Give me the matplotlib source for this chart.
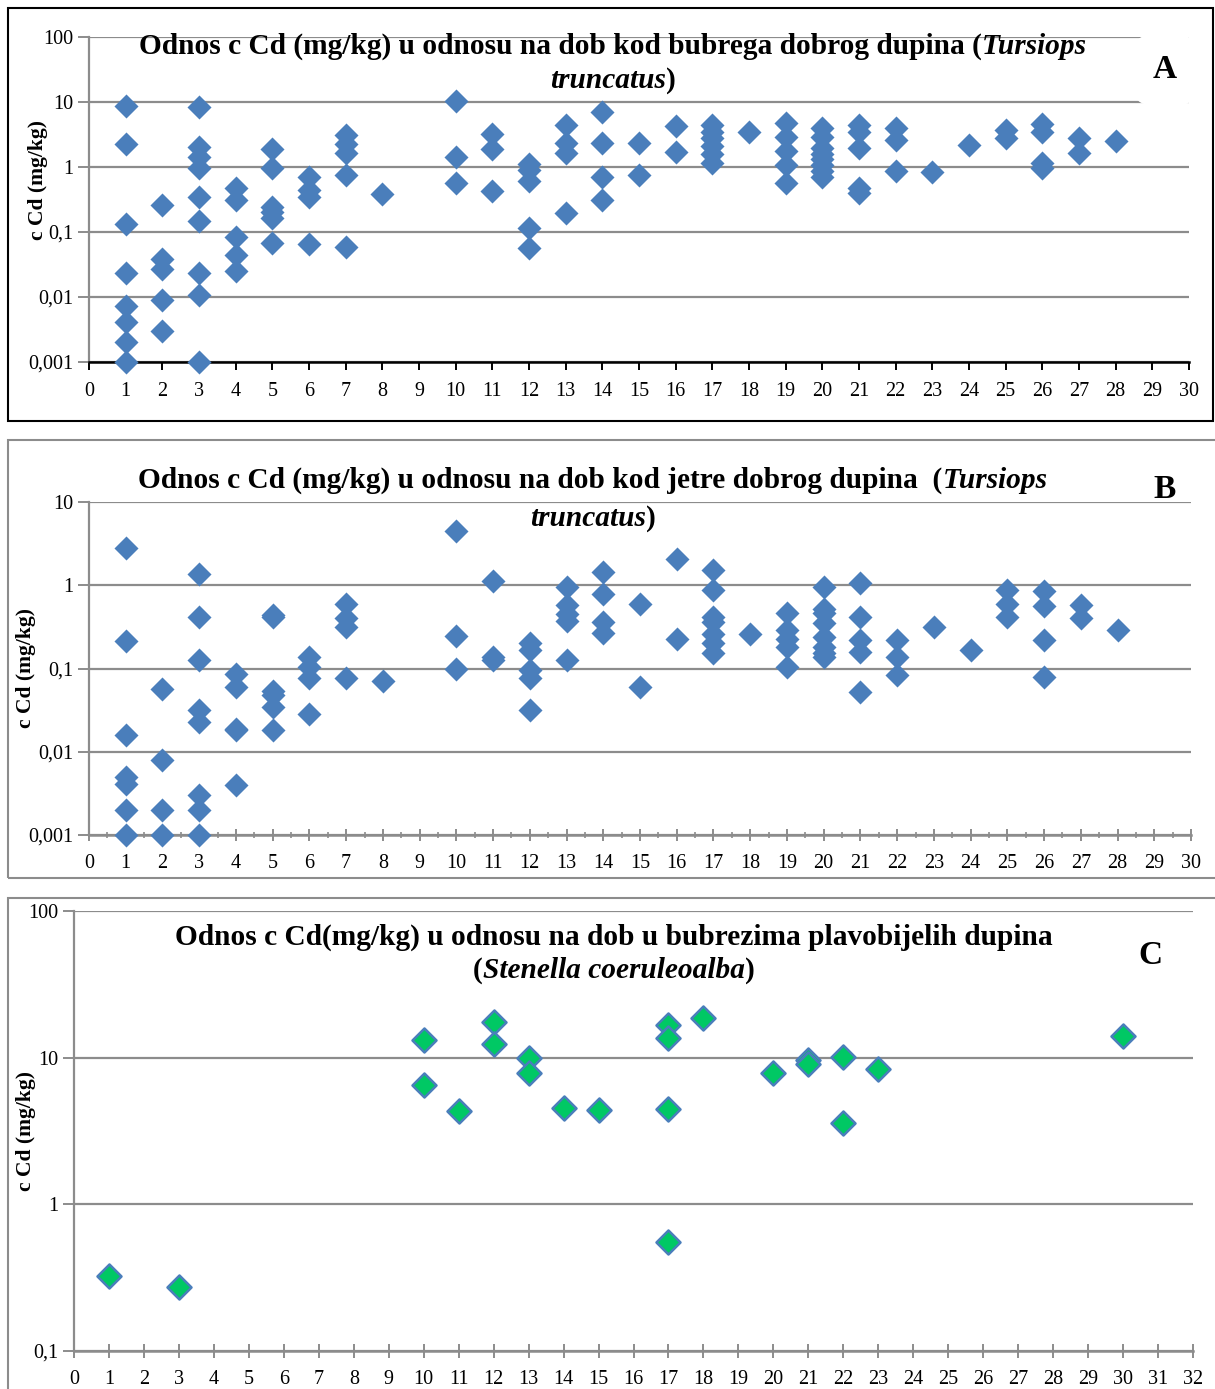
import matplotlib
matplotlib.use("Agg")
import matplotlib.pyplot as plt
from matplotlib.patches import Rectangle
from matplotlib.ticker import FixedLocator, MultipleLocator

plt.rcParams['font.family'] = ['Liberation Serif', 'DejaVu Serif']

# --- A: bubreg, Tursiops truncatus (dob, c Cd mg/kg)
a_age = [1, 1, 1, 1, 1, 1, 1, 1,
         2, 2, 2, 2, 2,
         3, 3, 3, 3, 3, 3, 3, 3, 3,
         4, 4, 4, 4, 4,
         5, 5, 5, 5, 5, 5,
         6, 6, 6, 6,
         7, 7, 7, 7, 7,
         8,
         10, 10, 10,
         11, 11, 11,
         12, 12, 12, 12, 12,
         13, 13, 13, 13,
         14, 14, 14, 14,
         15, 15,
         16, 16,
         17, 17, 17, 17, 17, 17,
         18,
         19, 19, 19, 19, 19,
         20, 20, 20, 20, 20, 20, 20, 20,
         21, 21, 21, 21, 21,
         22, 22, 22,
         23, 24,
         25, 25,
         26, 26, 26, 26,
         27, 27,
         28]
a_cd = [8.7, 2.24, 0.131, 0.023, 0.0072, 0.0041, 0.00203, 0.001,
        0.26, 0.039, 0.0265, 0.0091, 0.003,
        8.3, 2.06, 1.41, 0.955, 0.34, 0.149, 0.023, 0.0109, 0.001,
        0.47, 0.31, 0.083, 0.044, 0.025,
        1.88, 0.955, 0.245, 0.205, 0.162, 0.068,
        0.69, 0.44, 0.34, 0.065,
        3.12, 2.27, 1.67, 0.74, 0.059,
        0.39,
        10.2, 1.45, 0.575,
        3.2, 1.9, 0.43,
        1.10, 0.90, 0.60, 0.116, 0.056,
        4.45, 2.32, 1.67, 0.198,
        6.9, 2.32, 0.71, 0.31,
        2.32, 0.755,
        4.3, 1.69,
        4.45, 3.51, 2.77, 2.11, 1.59, 1.17,
        3.5,
        4.72, 2.94, 1.77, 1.08, 0.56,
        3.95, 2.94, 1.94, 1.59, 1.32, 1.08, 0.88, 0.70,
        4.45, 3.5, 1.94, 0.47, 0.40,
        3.95, 2.61, 0.87,
        0.83, 2.19,
        3.7, 2.77,
        4.61, 3.5, 1.14, 0.955,
        2.77, 1.63,
        2.52]

# --- B: jetra, Tursiops truncatus
b_age = [1, 1, 1, 1, 1, 1, 1,
         2, 2, 2, 2,
         3, 3, 3, 3, 3, 3, 3, 3,
         4, 4, 4, 4, 4,
         5, 5, 5, 5, 5, 5,
         6, 6, 6, 6,
         7, 7, 7, 7,
         8,
         10, 10, 10,
         11, 11, 11,
         12, 12, 12, 12, 12,
         13, 13, 13, 13, 13,
         14, 14, 14, 14,
         15, 15,
         16, 16,
         17, 17, 17, 17, 17, 17, 17,
         18,
         19, 19, 19, 19, 19,
         20, 20, 20, 20, 20, 20, 20, 20,
         21, 21, 21, 21, 21,
         22, 22, 22,
         23, 24,
         25, 25, 25,
         26, 26, 26, 26,
         27, 27,
         28]
b_cd = [2.8, 0.213, 0.0161, 0.0050, 0.0041, 0.0020, 0.001,
        0.0575, 0.0079, 0.002, 0.001,
        1.38, 0.42, 0.126, 0.0316, 0.0229, 0.0030, 0.002, 0.001,
        0.087, 0.060, 0.019, 0.018, 0.004,
        0.437, 0.41, 0.054, 0.048, 0.0347, 0.0182,
        0.138, 0.103, 0.076, 0.0288,
        0.60, 0.40, 0.316, 0.076,
        0.071,
        4.45, 0.244, 0.1,
        1.13, 0.138, 0.126,
        0.2, 0.166, 0.095, 0.076, 0.0316,
        0.955, 0.575, 0.457, 0.373, 0.126,
        1.45, 0.79, 0.363, 0.268,
        0.60, 0.060,
        2.09, 0.229,
        1.51, 0.87, 0.417, 0.363, 0.263, 0.2, 0.154,
        0.258,
        0.466, 0.288, 0.229, 0.182, 0.103,
        0.955, 0.525, 0.466, 0.353, 0.240, 0.182, 0.154, 0.136,
        1.05, 0.42, 0.219, 0.158, 0.0525,
        0.219, 0.138, 0.083,
        0.316, 0.166,
        0.87, 0.60, 0.417,
        0.855, 0.56, 0.219, 0.079,
        0.575, 0.40,
        0.288]

# --- C: bubreg, Stenella coeruleoalba
c_age = [1, 3, 10, 10, 11, 12, 12, 13, 13, 14, 15,
         17, 17, 17, 17, 18, 20, 21, 21, 22, 22, 23, 30]
c_cd = [0.323, 0.272, 13.3, 6.53, 4.30, 17.5, 12.4, 9.93, 7.84, 4.53, 4.41,
        16.6, 13.7, 4.48, 0.551, 18.6, 7.88, 9.67, 8.99, 10.1, 3.59, 8.4, 13.96]

W, H = 1215, 1389
fig = plt.figure(figsize=(W / 100, H / 100), dpi=100)

blue = '#4A7EBB'
green = '#00C864'
grid_c = '#8C8C8C'
serif = ['Liberation Serif', 'DejaVu Serif']


def px_axes(x0, x1, ytop, ybot):
    return fig.add_axes([x0 / W, 1 - ybot / H, (x1 - x0) / W, (ybot - ytop) / H])


def style(ax, ymin, ymax, xmax, labels, bottom_col, xpad):
    ax.set_yscale('log')
    ax.set_ylim(ymin, ymax)
    ax.set_xlim(0, xmax)
    decades = [ymin * 10.0 ** k for k in range(len(labels))]
    ax.yaxis.set_major_locator(FixedLocator(decades))
    ax.yaxis.set_minor_locator(FixedLocator([]))
    ax.set_yticklabels(labels)
    ax.xaxis.set_major_locator(MultipleLocator(1))
    ax.grid(axis='y', color=grid_c, lw=1.6)
    ax.set_axisbelow(True)
    for s in ['top', 'right']:
        ax.spines[s].set_visible(False)
    ax.spines['left'].set_color(grid_c)
    ax.spines['left'].set_linewidth(1.6)
    ax.spines['bottom'].set_color(bottom_col)
    ax.spines['bottom'].set_linewidth(1.8)
    ax.tick_params(axis='y', which='major', length=8, width=1.4, color=grid_c,
                   labelsize=14.5, pad=3)
    ax.tick_params(axis='x', which='major', length=6, width=1.4, color=bottom_col,
                   labelsize=14.5, pad=xpad)


def rich_line(xc, y, parts, fs=21.2):
    # parts: list of (text, italic) drawn side by side, centred on xc (pixels)
    r = fig.canvas.get_renderer()
    items = []
    for s, it in parts:
        t = fig.text(0, 1 - y / H, s, fontsize=fs, fontweight='bold',
                     fontstyle='italic' if it else 'normal', family=serif,
                     ha='left', va='center')
        items.append(t)
    widths = [t.get_window_extent(r).width for t in items]
    x = xc - sum(widths) / 2
    for t, w in zip(items, widths):
        t.set_x(x / W)
        x += w


# frames round the three panels
fig.add_artist(Rectangle((8 / W, 1 - 421 / H), 1205 / W, 413 / H,
                         transform=fig.transFigure, fill=False,
                         edgecolor='black', lw=1.5))
fig.add_artist(Rectangle((8 / W, 1 - 878 / H), 1210 / W, 438 / H,
                         transform=fig.transFigure, fill=False,
                         edgecolor=grid_c, lw=1.5))
fig.add_artist(Rectangle((8 / W, 1 - 1395 / H), 1210 / W, 497 / H,
                         transform=fig.transFigure, fill=False,
                         edgecolor=grid_c, lw=1.5))

ylab_fs = 15.5

# ---- panel A
axA = px_axes(89, 1189, 37, 362)
axA.scatter(a_age, a_cd, marker='D', s=150, color=blue, lw=0, zorder=3, clip_on=False)
style(axA, 0.001, 100, 30, ['0,001', '0,01', '0,1', '1', '10', '100'], 'black', 8.5)
axA.set_ylabel('c Cd (mg/kg)', fontsize=ylab_fs, fontweight='bold')
axA.yaxis.set_label_coords(-0.037, 0.56)

# ---- panel B
axB = px_axes(89, 1191, 502, 835)
axB.scatter(b_age, b_cd, marker='D', s=150, color=blue, lw=0, zorder=3, clip_on=False)
style(axB, 0.001, 10, 30, ['0,001', '0,01', '0,1', '1', '10'], grid_c, 9.5)
axB.xaxis.set_minor_locator(MultipleLocator(0.5))
axB.tick_params(axis='x', which='minor', length=4, width=1.2, color=grid_c,
                direction='inout')
axB.tick_params(axis='x', which='major', direction='inout', length=8)
axB.set_ylabel('c Cd (mg/kg)', fontsize=ylab_fs, fontweight='bold')
axB.yaxis.set_label_coords(-0.048, 0.5)

# ---- panel C
axC = px_axes(74, 1193, 911, 1351)
axC.scatter(c_age, c_cd, marker='D', s=150, color=green, edgecolor=blue, lw=1.8,
            zorder=3, clip_on=False)
style(axC, 0.1, 100, 32, ['0,1', '1', '10', '100'], grid_c, 9)
axC.tick_params(axis='x', which='major', direction='inout', length=10)
axC.set_ylabel('c Cd (mg/kg)', fontsize=ylab_fs, fontweight='bold')
axC.yaxis.set_label_coords(-0.034, 0.5)

for ax in (axA, axB, axC):
    for t in ax.get_xticklabels() + ax.get_yticklabels():
        t.set_family(serif)

# ---- titles
rich_line(613, 46, [("Odnos c Cd (mg/kg) u odnosu na dob kod bubrega dobrog dupina (", False),
                    ("Tursiops", True)])
rich_line(613, 80, [("truncatus", True), (")", False)])
rich_line(593, 480, [("Odnos c Cd (mg/kg) u odnosu na dob kod jetre dobrog dupina  (", False),
                     ("Tursiops", True)])
rich_line(593, 518, [("truncatus", True), (")", False)])
rich_line(614, 937, [("Odnos c Cd(mg/kg) u odnosu na dob u bubrezima plavobijelih dupina", False)])
rich_line(614, 971, [("(", False), ("Stenella coeruleoalba", True), (")", False)])

# panel letters
fig.text(1165 / W, 1 - 70 / H, "A", ha='center', va='center', fontsize=24,
         fontweight='bold', bbox=dict(boxstyle='round,pad=0.6', fc='white', ec='none'))
fig.text(1165 / W, 1 - 490 / H, "B", ha='center', va='center', fontsize=24,
         fontweight='bold')
fig.text(1150 / W, 1 - 955 / H, "C", ha='center', va='center', fontsize=24,
         fontweight='bold')

fig.savefig('out.png', dpi=100)
